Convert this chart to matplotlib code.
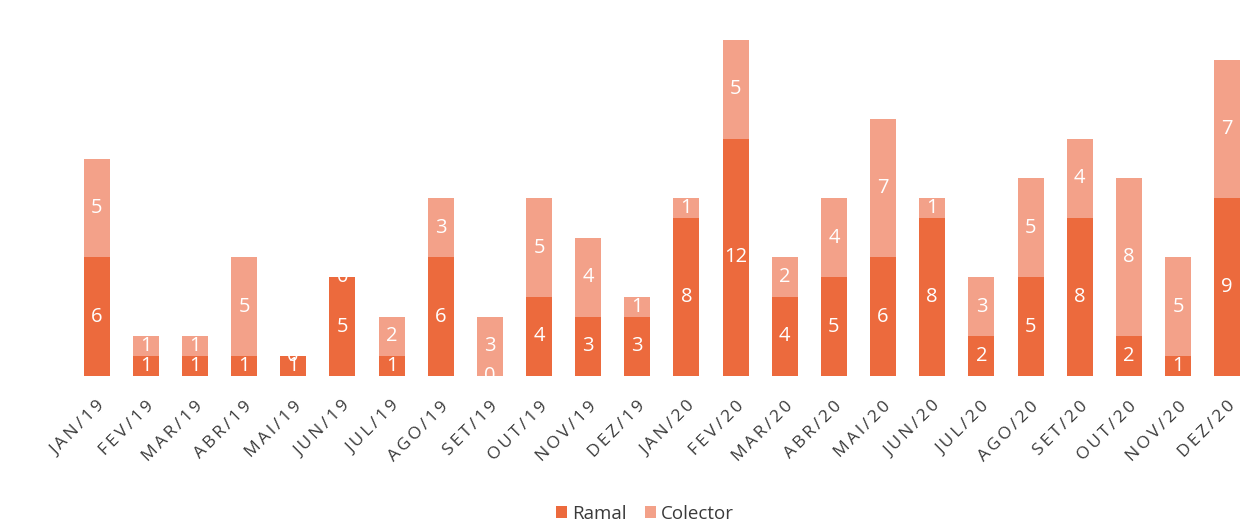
import numpy as np
import matplotlib
matplotlib.use("Agg")
import matplotlib.pyplot as plt

months = ["JAN/19", "FEV/19", "MAR/19", "ABR/19", "MAI/19", "JUN/19", "JUL/19", "AGO/19",
          "SET/19", "OUT/19", "NOV/19", "DEZ/19", "JAN/20", "FEV/20", "MAR/20", "ABR/20",
          "MAI/20", "JUN/20", "JUL/20", "AGO/20", "SET/20", "OUT/20", "NOV/20", "DEZ/20"]
ramal = [6, 1, 1, 1, 1, 5, 1, 6, 0, 4, 3, 3, 8, 12, 4, 5, 6, 8, 2, 5, 8, 2, 1, 9]
colector = [5, 1, 1, 5, 0, 0, 2, 3, 3, 5, 4, 1, 1, 5, 2, 4, 7, 1, 3, 5, 4, 8, 5, 7]

plt.rcParams['font.family'] = ['Open Sans', 'DejaVu Sans']

c_ramal = "#EC6A3D"
c_colector = "#F3A189"
text_col = "#3A3A3A"

fig = plt.figure(figsize=(12.55, 5.24), dpi=100)
ax = fig.add_axes([0.0574, 0.2824, 0.940, 0.679])

x = np.arange(len(months))
w = 0.53
b1 = ax.bar(x, ramal, w, color=c_ramal, label="Ramal")
b2 = ax.bar(x, colector, w, bottom=ramal, color=c_colector, label="Colector")

# value labels centred in each segment
for i in range(len(months)):
    ax.text(x[i], ramal[i] / 2, str(ramal[i]), ha="center", va="center",
            color="white", fontsize=14.5)
    ax.text(x[i], ramal[i] + colector[i] / 2, str(colector[i]), ha="center", va="center",
            color="white", fontsize=14.5)

# month labels with slight letter spacing
spaced = ["\u2009".join(m) for m in months]
ax.set_xlim(-0.5, len(months) - 0.5)
ax.set_ylim(0, 18)
ax.set_xticks(x)
ax.set_xticklabels(spaced, rotation=45, ha="right", rotation_mode="anchor",
                   fontsize=12.5, color=text_col)
ax.tick_params(axis="x", length=0, pad=16)
ax.set_yticks([])
for s in ax.spines.values():
    s.set_visible(False)

fig.legend(handles=[b1, b2], labels=["Ramal", "Colector"], loc="center",
           bbox_to_anchor=(0.514, 0.02), ncol=2, frameon=False, fontsize=13.5,
           handlelength=0.6, handleheight=0.6, handletextpad=0.25, columnspacing=1.0,
           labelcolor=text_col)

fig.savefig("out.png", dpi=100)
